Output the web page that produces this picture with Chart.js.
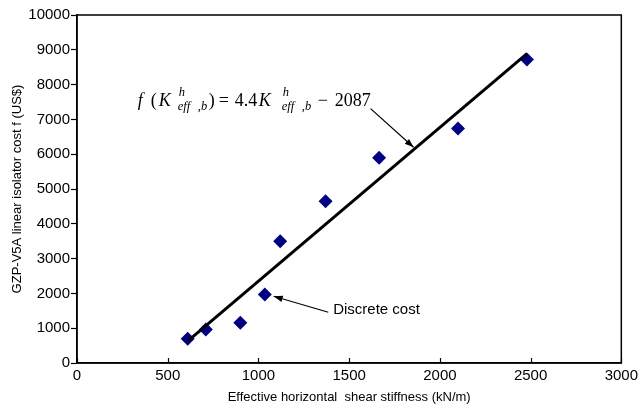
<!DOCTYPE html>
<html>
<head>
<meta charset="utf-8">
<script src="https://cdn.jsdelivr.net/npm/chart.js@4.4.1/dist/chart.umd.min.js"></script>
<style>
  html, body { margin: 0; padding: 0; background: #ffffff; }
  #wrap { width: 642px; height: 408px; }
</style>
</head>
<body>
<div id="wrap"><canvas id="c" width="642" height="408"></canvas></div>
<script>
// ---- data ----
const stiffness = [610, 710, 900, 1035, 1120, 1370, 1665, 2100, 2480];   // kN/m
const cost      = [700, 960, 1160, 1970, 3500, 4650, 5900, 6740, 8720];  // US$
const fitX = [610, 2480];
const fitY = [630, 8890];
const xTicks = [0, 500, 1000, 1500, 2000, 2500, 3000];
const yTicks = [0, 1000, 2000, 3000, 4000, 5000, 6000, 7000, 8000, 9000, 10000];

// annotation anchors, in data units
const eqAnchor = [335, 7380];
const eqArrow = [[1618, 7310], [1855, 6198]];
const discreteLabel = [1412, 1515];
const discreteArrow = [[1385, 1457], [1084, 1917]];

const pts = stiffness.map((x, i) => ({ x: x, y: cost[i] }));
const fit = fitX.map((x, i) => ({ x: x, y: fitY[i] }));

function arrow(ctx, x1, y1, x2, y2) {
  ctx.save();
  ctx.strokeStyle = '#000'; ctx.fillStyle = '#000'; ctx.lineWidth = 1.2;
  ctx.beginPath(); ctx.moveTo(x1, y1); ctx.lineTo(x2, y2); ctx.stroke();
  const a = Math.atan2(y2 - y1, x2 - x1), L = 9, W = 3.2;
  ctx.beginPath();
  ctx.moveTo(x2, y2);
  ctx.lineTo(x2 - L * Math.cos(a) + W * Math.sin(a), y2 - L * Math.sin(a) - W * Math.cos(a));
  ctx.lineTo(x2 - L * Math.cos(a) - W * Math.sin(a), y2 - L * Math.sin(a) + W * Math.cos(a));
  ctx.closePath(); ctx.fill();
  ctx.restore();
}

const SERIF = '"Liberation Serif", "Times New Roman", serif';
// equation pieces: text, font, x offset from anchor (px), baseline offset (px)
const eqPieces = [
  ['f',   'italic 18px ' + SERIF, 0, 0],
  ['(',   '18px ' + SERIF, 13, 0],
  ['K',   'italic 18px ' + SERIF, 21, 0],
  ['h',   'italic 12.5px ' + SERIF, 41, -10],
  ['eff', 'italic 12.5px ' + SERIF, 40, 4],
  [',b',  'italic 12.5px ' + SERIF, 60, 4],
  [')',   '18px ' + SERIF, 71, 0],
  ['=',   '18px ' + SERIF, 81, 0],
  ['4.4', '18px ' + SERIF, 97, 0],
  ['K',   'italic 18px ' + SERIF, 121, 0],
  ['h',   'italic 12.5px ' + SERIF, 145, -10],
  ['eff', 'italic 12.5px ' + SERIF, 144, 4],
  [',b',  'italic 12.5px ' + SERIF, 164, 4],
  ['\u2212', '18px ' + SERIF, 180, 0],
  ['2087', '18px ' + SERIF, 197, 0]
];

const decor = {
  id: 'decor',
  afterDraw(chart) {
    const ctx = chart.ctx, a = chart.chartArea;
    const xs = chart.scales.x, ys = chart.scales.y;
    ctx.save();
    // frame
    ctx.strokeStyle = '#000'; ctx.lineWidth = 1.5;
    ctx.strokeRect(a.left, a.top, a.right - a.left, a.bottom - a.top);
    // inward x ticks
    ctx.lineWidth = 1.2;
    xTicks.forEach(v => {
      const px = Math.round(xs.getPixelForValue(v)) + 0.5;
      ctx.beginPath(); ctx.moveTo(px, a.bottom); ctx.lineTo(px, a.bottom - 5); ctx.stroke();
    });
    // equation
    const x0 = xs.getPixelForValue(eqAnchor[0]);
    const base = ys.getPixelForValue(eqAnchor[1]);
    ctx.fillStyle = '#000'; ctx.textBaseline = 'alphabetic'; ctx.textAlign = 'left';
    eqPieces.forEach(p => { ctx.font = p[1]; ctx.fillText(p[0], x0 + p[2], base + p[3]); });
    // arrows
    arrow(ctx, xs.getPixelForValue(eqArrow[0][0]), ys.getPixelForValue(eqArrow[0][1]),
               xs.getPixelForValue(eqArrow[1][0]), ys.getPixelForValue(eqArrow[1][1]));
    arrow(ctx, xs.getPixelForValue(discreteArrow[0][0]), ys.getPixelForValue(discreteArrow[0][1]),
               xs.getPixelForValue(discreteArrow[1][0]), ys.getPixelForValue(discreteArrow[1][1]));
    ctx.font = '15px "Liberation Sans", Arial, sans-serif';
    ctx.textBaseline = 'middle';
    ctx.fillText('Discrete cost', xs.getPixelForValue(discreteLabel[0]), ys.getPixelForValue(discreteLabel[1]));
    ctx.restore();
  }
};

const tickFont = { family: '"Liberation Sans", Arial, sans-serif', size: 15 };
const titleFont = { family: '"Liberation Sans", Arial, sans-serif', size: 13 };

new Chart(document.getElementById('c'), {
  type: 'scatter',
  data: {
    datasets: [
      {
        label: 'Discrete cost',
        data: pts,
        pointStyle: 'rectRot',
        pointRadius: 7,
        pointHoverRadius: 7,
        backgroundColor: '#000080',
        borderColor: '#000080',
        borderWidth: 0,
        showLine: false,
        order: 1
      },
      {
        label: 'Fit',
        data: fit,
        showLine: true,
        borderColor: '#000',
        borderWidth: 3,
        pointRadius: 0,
        fill: false,
        order: 0
      }
    ]
  },
  options: {
    responsive: false,
    animation: false,
    devicePixelRatio: 1,
    layout: { padding: { left: 0, right: 17, top: 15, bottom: 0 } },
    plugins: { legend: { display: false }, tooltip: { enabled: false } },
    scales: {
      x: {
        type: 'linear', min: 0, max: 3000,
        afterBuildTicks: s => { s.ticks = xTicks.map(v => ({ value: v })); },
        afterFit: s => { s.height = 45; },
        grid: { display: true, drawOnChartArea: false, drawTicks: false },
        border: { display: true, color: '#000', width: 1.5 },
        ticks: { color: '#000', font: tickFont, padding: 4, maxRotation: 0, callback: v => String(v) },
        title: { display: true, text: 'Effective horizontal  shear stiffness (kN/m)', color: '#000', font: titleFont, padding: { top: 0, bottom: 3 } }
      },
      y: {
        type: 'linear', min: 0, max: 10000,
        afterBuildTicks: s => { s.ticks = yTicks.map(v => ({ value: v })); },
        afterFit: s => { s.width = 77; },
        grid: { display: true, drawOnChartArea: false, drawTicks: true, tickLength: 6, tickColor: '#000', tickWidth: 1.2 },
        border: { display: true, color: '#000', width: 1.5 },
        ticks: { color: '#000', font: tickFont, padding: 1, callback: v => String(v) },
        title: { display: true, text: 'GZP-V5A linear isolator cost f (US$)', color: '#000', font: titleFont, padding: { top: 10, bottom: 0 } }
      }
    }
  },
  plugins: [decor]
});
</script>
</body>
</html>
